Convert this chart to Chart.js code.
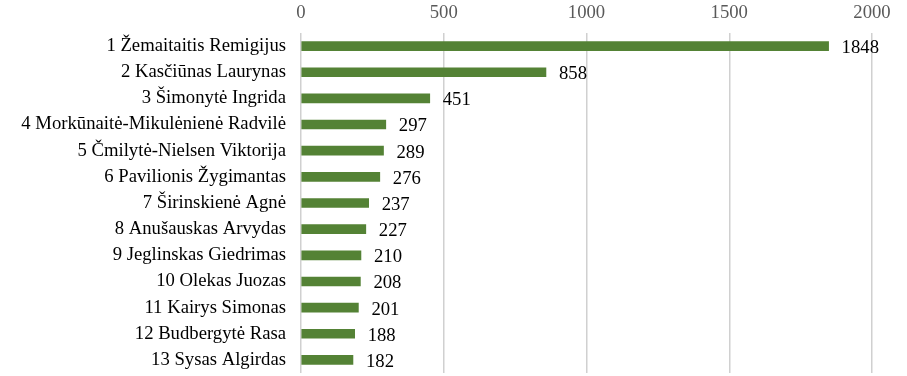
<!DOCTYPE html>
<html><head><meta charset="utf-8">
<style>html,body{margin:0;padding:0;background:#fff}#wrap{width:907px;height:376px}</style>
<script src="https://cdn.jsdelivr.net/npm/chart.js@4/dist/chart.umd.min.js"></script>
</head><body><div id="wrap"><canvas id="c" width="907" height="376"></canvas></div>
<script>
const categories = ["1 Žemaitaitis Remigijus","2 Kasčiūnas Laurynas","3 Šimonytė Ingrida","4 Morkūnaitė-Mikulėnienė Radvilė","5 Čmilytė-Nielsen Viktorija","6 Pavilionis Žygimantas","7 Širinskienė Agnė","8 Anušauskas Arvydas","9 Jeglinskas Giedrimas","10 Olekas Juozas","11 Kairys Simonas","12 Budbergytė Rasa","13 Sysas Algirdas"];
const votes = [1848,858,451,297,289,276,237,227,210,208,201,188,182];
const xTicks = [0,500,1000,1500,2000];

const FONT = "'Liberation Serif','Times New Roman',serif";
const labelPlugin = {
  id:'vals',
  afterDatasetsDraw(chart){
    const ctx = chart.ctx;
    const meta = chart.getDatasetMeta(0);
    ctx.save();
    ctx.font = "18.7px " + FONT;
    ctx.fillStyle = "#000";
    ctx.textAlign = "left";
    ctx.textBaseline = "middle";
    meta.data.forEach((bar,i)=>{
      ctx.fillText(String(votes[i]), bar.x + 13, bar.y + 2);
    });
    ctx.restore();
  }
};

new Chart(document.getElementById('c'), {
  type:'bar',
  data:{labels:categories, datasets:[{data:votes, backgroundColor:'#548235', barThickness:9}]},
  options:{
    indexAxis:'y', responsive:false, animation:false,
    layout:{padding:{left:0,right:35,top:0,bottom:3}},
    plugins:{legend:{display:false}, tooltip:{enabled:false}},
    scales:{
      x:{position:'top', min:0, max:2000,
         afterBuildTicks(s){ s.ticks = xTicks.map(v=>({value:v})); },
         afterFit(s){ s.height = 33; s.paddingLeft = 0; s.paddingRight = 0; },
         border:{display:false},
         grid:{color:'#d0d0d0', lineWidth:1.5, drawTicks:false},
         ticks:{color:'#595959', font:{family:FONT, size:18.7}, padding:9, callback:(v)=>String(v)}
      },
      y:{
         afterFit(s){ s.width = 301; s.paddingTop = 0; s.paddingBottom = 0; },
         border:{display:false},
         grid:{display:false, drawTicks:false},
         ticks:{color:'#000', font:{family:FONT, size:18.7}, padding:15, autoSkip:false}
      }
    }
  },
  plugins:[labelPlugin]
});
</script></body></html>
